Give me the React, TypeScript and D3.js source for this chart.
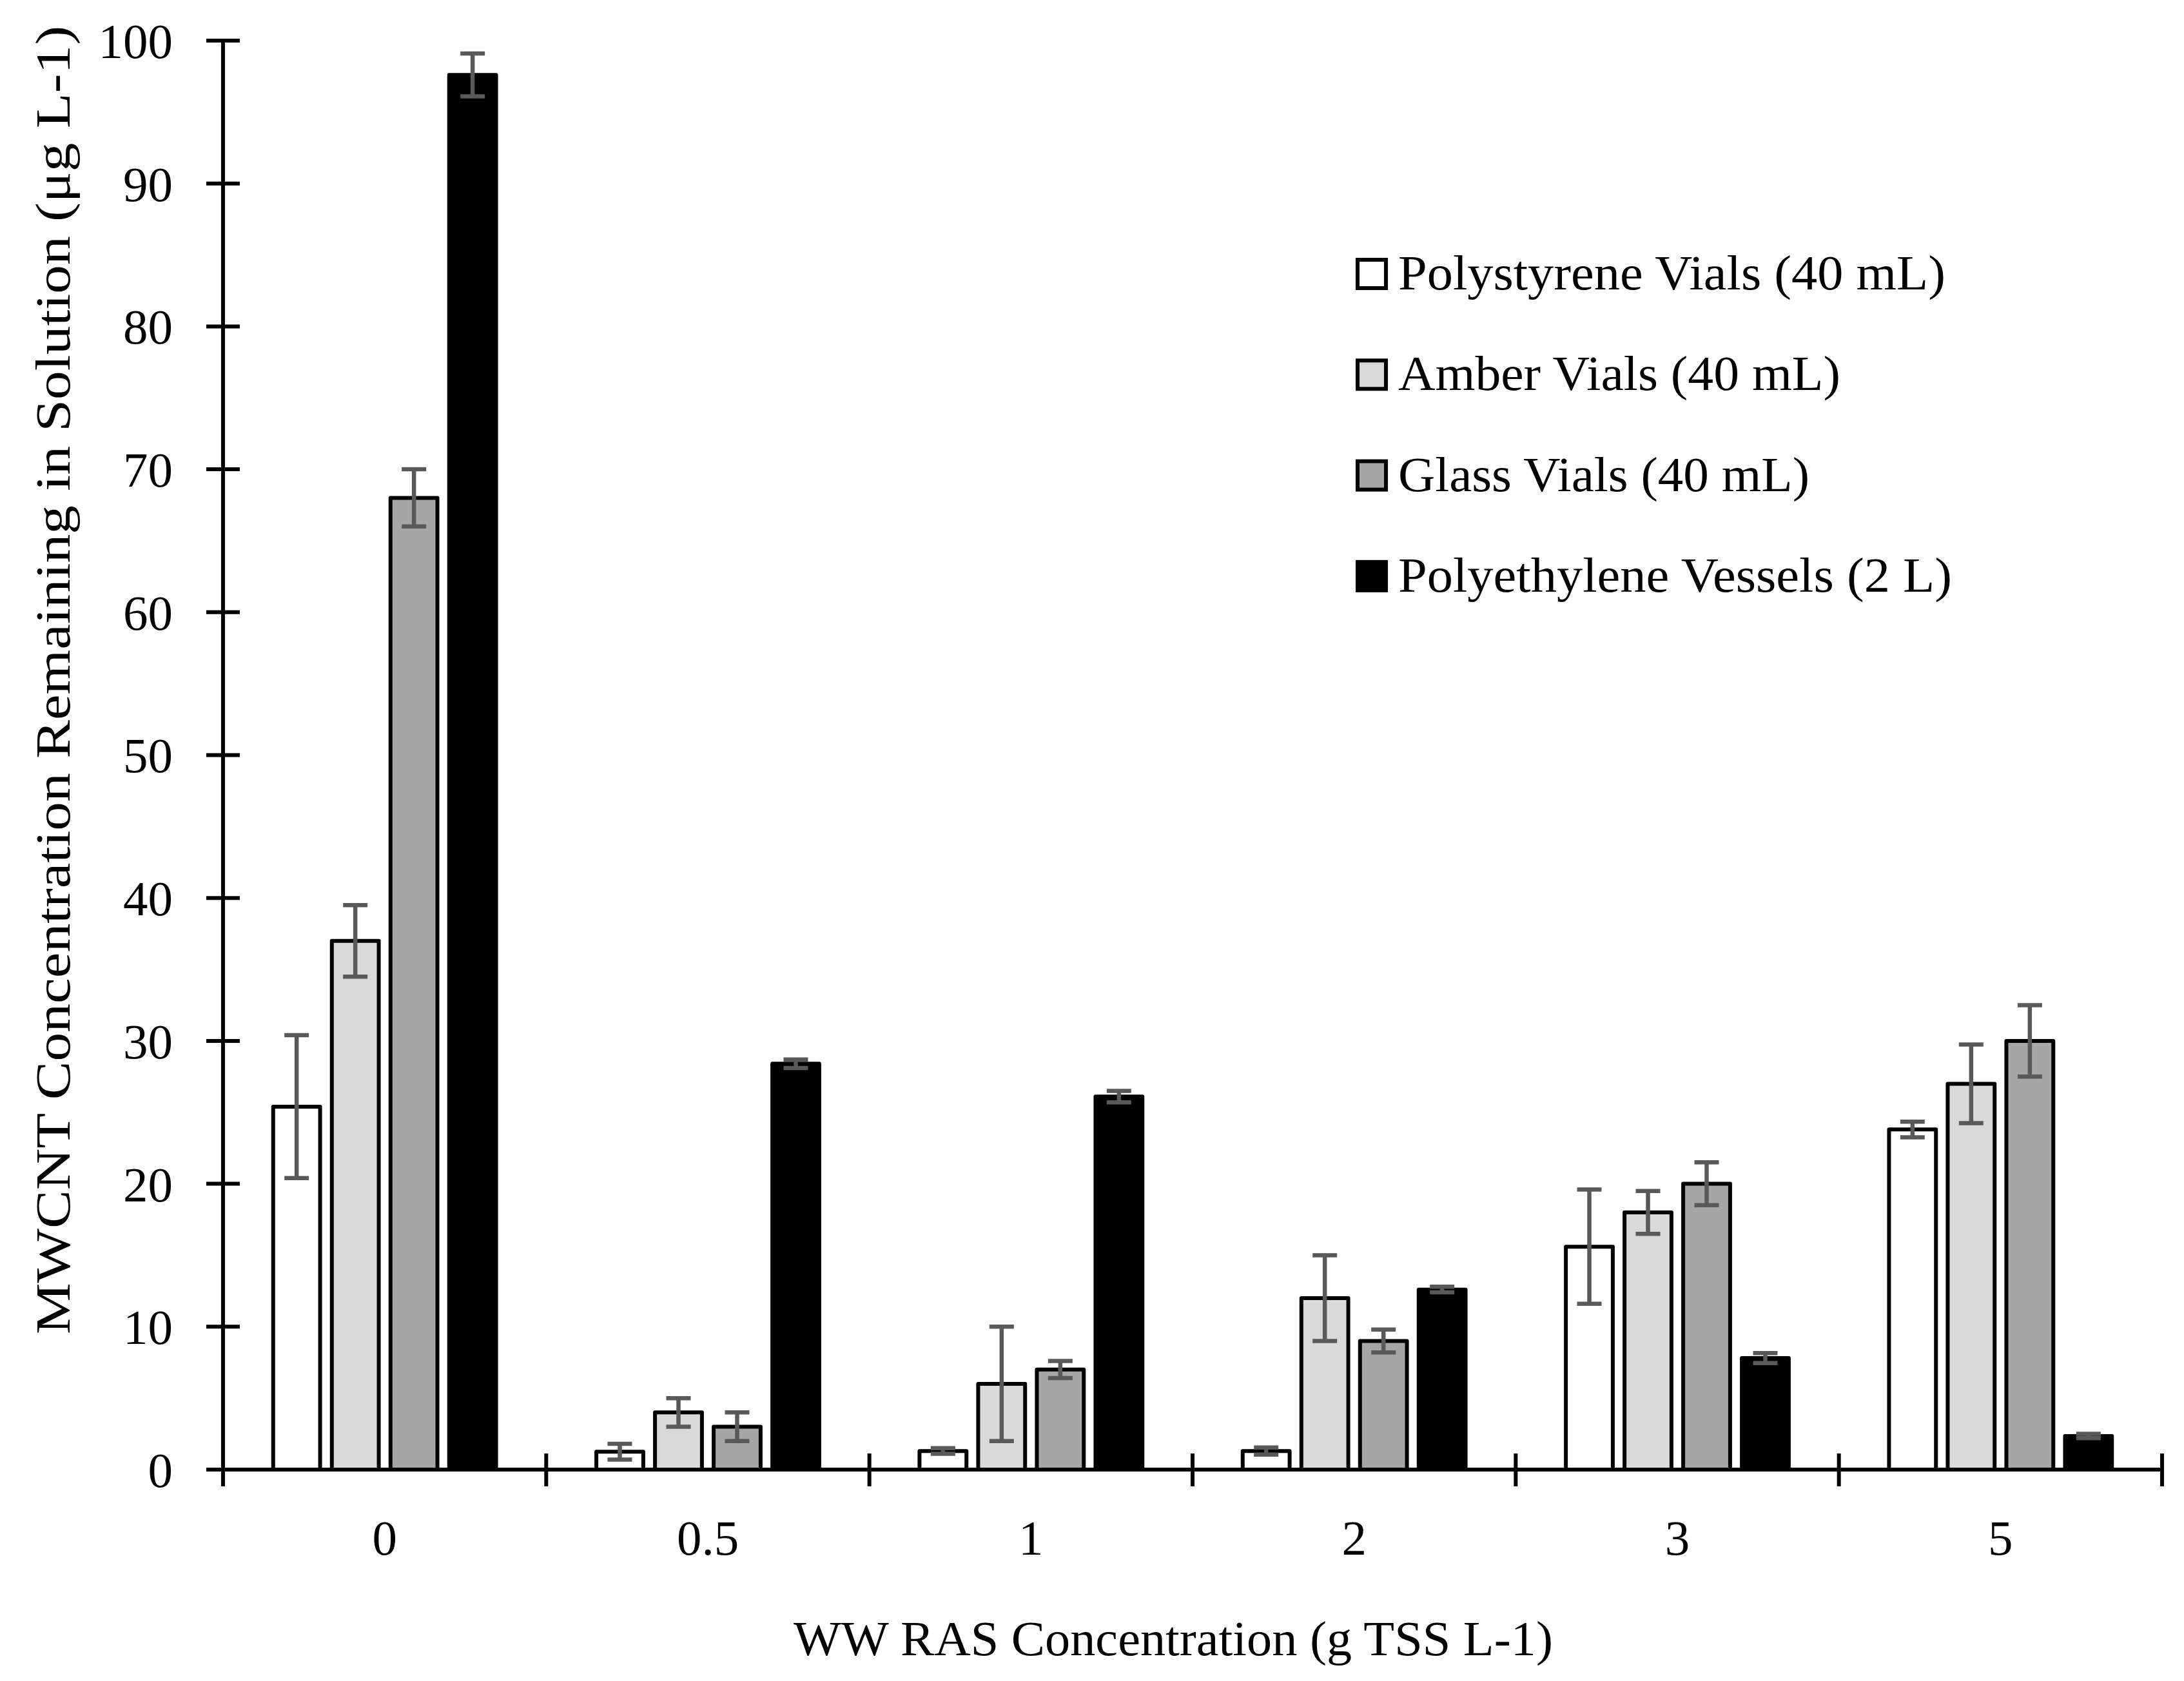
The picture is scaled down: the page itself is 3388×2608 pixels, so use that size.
import React from "react";
import * as d3 from "d3";

const categories = ["0", "0.5", "1", "2", "3", "5"];
const seriesNames = [
  "Polystyrene Vials (40 mL)",
  "Amber Vials (40 mL)",
  "Glass Vials (40 mL)",
  "Polyethylene Vessels (2 L)",
];
const seriesColors = ["#ffffff", "#d9d9d9", "#a6a6a6", "#000000"];
const polystyrene = [25.4, 1.25, 1.3, 1.3, 15.6, 23.8];
const polystyreneErr = [5.0, 0.55, 0.2, 0.25, 4.0, 0.55];
const amber = [37.0, 4.0, 6.0, 12.0, 18.0, 27.0];
const amberErr = [2.5, 1.0, 4.0, 3.0, 1.5, 2.75];
const glass = [68.0, 3.0, 7.0, 9.0, 20.0, 30.0];
const glassErr = [2.0, 1.0, 0.6, 0.8, 1.5, 2.5];
const polyethylene = [97.6, 28.4, 26.1, 12.6, 7.8, 2.35];
const polyethyleneErr = [1.5, 0.3, 0.4, 0.2, 0.35, 0.15];
const yTicks = [0, 10, 20, 30, 40, 50, 60, 70, 80, 90, 100];

const values = [polystyrene, amber, glass, polyethylene];
const errors = [polystyreneErr, amberErr, glassErr, polyethyleneErr];

const W = 3388;
const H = 2608;
const left = 346;
const right = 3354;
const top = 63;
const bottom = 2280;
const FONT = "'Liberation Serif', 'DejaVu Serif', serif";
const FS = 77;
const legendWidths = [849, 686, 638, 859];

export default function App() {
  const x = d3.scaleBand<string>().domain(categories).range([left, right]).padding(0);
  const inner = d3
    .scaleBand<number>()
    .domain([0, 1, 2, 3])
    .range([-182, 182])
    .paddingInner(0.2)
    .paddingOuter(0.1);
  const y = d3.scaleLinear().domain([0, 100]).range([bottom, top]);
  const bw = inner.bandwidth();
  const boundaries = categories.map((c) => x(c)!).concat([right]);

  return (
    <svg
      width={W}
      height={H}
      viewBox={`0 0 ${W} ${H}`}
      style={{ position: "absolute", left: 0, top: 0, display: "block", background: "#fff" }}
    >
      <rect x={0} y={0} width={W} height={H} fill="#ffffff" />
      {/* bars */}
      {values.map((vals, s) =>
        vals.map((v, i) => {
          const cx = x(categories[i])! + x.bandwidth() / 2 + inner(s)! + bw / 2;
          return (
            <rect
              key={`b${s}-${i}`}
              x={cx - bw / 2}
              y={y(v)}
              width={bw}
              height={y(0) - y(v)}
              fill={seriesColors[s]}
              stroke="#000"
              strokeWidth={6}
              strokeLinejoin="round"
            />
          );
        })
      )}
      {/* error bars */}
      {values.map((vals, s) =>
        vals.map((v, i) => {
          const cx = x(categories[i])! + x.bandwidth() / 2 + inner(s)! + bw / 2;
          const e = errors[s][i];
          const y1 = y(v + e);
          const y2 = y(Math.max(0, v - e));
          return (
            <g key={`e${s}-${i}`} stroke="#595959" strokeWidth={6.5}>
              <line x1={cx} x2={cx} y1={y1} y2={y2} />
              <line x1={cx - 19} x2={cx + 19} y1={y1} y2={y1} />
              <line x1={cx - 19} x2={cx + 19} y1={y2} y2={y2} />
            </g>
          );
        })
      )}
      {/* y axis */}
      <line x1={left} x2={left} y1={y(100)} y2={bottom} stroke="#000" strokeWidth={6} />
      {yTicks.map((t) => (
        <g key={`yt${t}`}>
          <line x1={left - 26} x2={left + 26} y1={y(t)} y2={y(t)} stroke="#000" strokeWidth={6} />
          <text
            x={268}
            y={y(t)}
            dy="0.35em"
            textAnchor="end"
            fontFamily={FONT}
            fontSize={FS}
            fill="#000"
          >
            {t}
          </text>
        </g>
      ))}
      {/* x axis */}
      <line x1={left - 26} x2={right} y1={bottom} y2={bottom} stroke="#000" strokeWidth={6} />
      {boundaries.map((b, i) => (
        <line key={`xt${i}`} x1={b} x2={b} y1={bottom - 25} y2={bottom + 26} stroke="#000" strokeWidth={6} />
      ))}
      {categories.map((c) => (
        <text
          key={`xl${c}`}
          x={x(c)! + x.bandwidth() / 2}
          y={2412}
          textAnchor="middle"
          fontFamily={FONT}
          fontSize={FS}
          fill="#000"
        >
          {c}
        </text>
      ))}
      {/* axis titles */}
      <text
        x={1820}
        y={2568}
        textAnchor="middle"
        fontFamily={FONT}
        fontSize={FS}
        fill="#000"
        textLength={1178}
        lengthAdjust="spacingAndGlyphs"
      >
        WW RAS Concentration (g TSS L-1)
      </text>
      <text
        transform={`translate(108, 1055) rotate(-90)`}
        textAnchor="middle"
        fontFamily={FONT}
        fontSize={FS}
        fill="#000"
        textLength={2030}
        lengthAdjust="spacingAndGlyphs"
      >
        MWCNT Concentration Remaining in Solution (μg L-1)
      </text>
      {/* legend */}
      {seriesNames.map((n, s) => {
        const cy = 425 + s * 156.3;
        return (
          <g key={`lg${s}`}>
            <rect
              x={2106}
              y={cy - 22}
              width={44}
              height={44}
              fill={seriesColors[s]}
              stroke="#000"
              strokeWidth={6}
            />
            <text
              x={2169}
              y={cy + 24}
              fontFamily={FONT}
              fontSize={FS}
              fill="#000"
              textLength={legendWidths[s]}
              lengthAdjust="spacingAndGlyphs"
            >
              {n}
            </text>
          </g>
        );
      })}
    </svg>
  );
}
